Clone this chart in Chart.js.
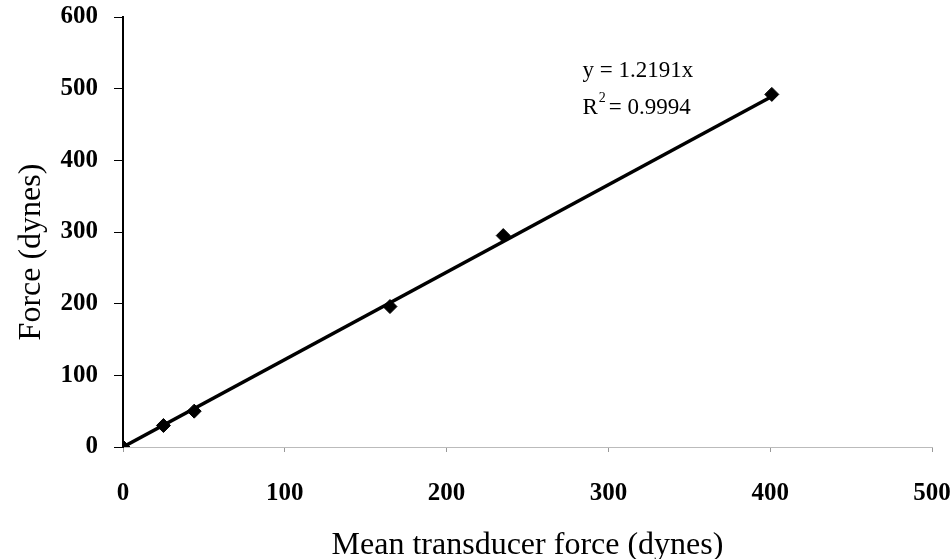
<!DOCTYPE html>
<html>
<head>
<meta charset="utf-8">
<script src="https://cdn.jsdelivr.net/npm/chart.js@4.4.0/dist/chart.umd.min.js"></script>
<style>
  html, body { margin: 0; padding: 0; background: #fff; }
  #wrap { width: 952px; height: 559px; }
</style>
</head>
<body>
<div id="wrap"><canvas id="forceChart" width="952" height="559"></canvas></div>
<script>
  const meanForce = [0, 25, 44, 165, 235, 401];
  const force = [0, 30, 50, 196, 295, 492];
  // droite de regression y = 1.2191x (extremites)
  const trendX = [0, 401];
  const trendY = [0, 489];
  const xTicks = [0, 100, 200, 300, 400, 500];
  const yTicks = [0, 100, 200, 300, 400, 500, 600];
  const eqText = "y = 1.2191x";
  const r2Text = "= 0.9994";

  const serif = "'Liberation Serif', 'DejaVu Serif', serif";

  const points = meanForce.map((x, i) => ({ x, y: force[i] }));
  const trend = trendX.map((x, i) => ({ x, y: trendY[i] }));

  const equationLabel = {
    id: "equationLabel",
    afterDatasetsDraw(chart) {
      const ctx = chart.ctx;
      const xs = chart.scales.x, ys = chart.scales.y;
      const px = xs.getPixelForValue(284);
      ctx.save();
      ctx.fillStyle = "#000";
      ctx.font = "23px " + serif;
      ctx.textBaseline = "middle";
      ctx.fillText(eqText, px, ys.getPixelForValue(525));
      const py = ys.getPixelForValue(473);
      ctx.fillText("R", px, py);
      const rw = ctx.measureText("R").width;
      ctx.font = "14px " + serif;
      ctx.fillText("2", px + rw + 1, py - 10);
      ctx.font = "23px " + serif;
      ctx.fillText(r2Text, px + rw + 11, py);
      ctx.restore();
    }
  };

  new Chart(document.getElementById("forceChart"), {
    type: "scatter",
    data: {
      datasets: [
        {
          label: "trend",
          data: trend,
          showLine: true,
          borderColor: "#000",
          borderWidth: 3.5,
          pointRadius: 0,
          fill: false
        },
        {
          label: "Force",
          data: points,
          pointStyle: "rectRot",
          pointRadius: 7,
          backgroundColor: "#000",
          borderColor: "#000"
        }
      ]
    },
    options: {
      responsive: false,
      animation: false,
      plugins: { legend: { display: false }, tooltip: { enabled: false } },
      layout: { padding: { top: 17, right: 20, left: 0, bottom: 0 } },
      scales: {
        x: {
          type: "linear",
          min: 0,
          max: 500,
          afterBuildTicks: s => { s.ticks = xTicks.map(v => ({ value: v })); },
          afterFit: s => { s.height = 112; s.paddingLeft = 0; s.paddingRight = 0; },
          grid: { drawOnChartArea: false, tickLength: 5, color: "#999" },
          border: { color: "#bbb", width: 1, dash: [3, 4] },
          ticks: {
            color: "#000",
            padding: 27,
            font: { family: serif, size: 25, weight: "bold" }
          },
          title: {
            display: true,
            text: "Mean transducer force (dynes)",
            color: "#000",
            padding: { top: 0, bottom: 0 },
            font: { family: serif, size: 32, lineHeight: 0.85 }
          }
        },
        y: {
          min: 0,
          max: 600,
          afterBuildTicks: s => { s.ticks = yTicks.map(v => ({ value: v })); },
          afterFit: s => { s.width = 123; s.paddingTop = 0; s.paddingBottom = 0; },
          grid: { drawOnChartArea: false, tickLength: 9, color: "#000" },
          border: { color: "#000", width: 2 },
          ticks: {
            color: "#000",
            padding: 16,
            font: { family: serif, size: 25, weight: "bold" }
          },
          title: {
            display: true,
            text: "Force (dynes)     ",
            color: "#000",
            padding: { top: 16, bottom: 0 },
            font: { family: serif, size: 32, lineHeight: 1 }
          }
        }
      }
    },
    plugins: [equationLabel]
  });
</script>
</body>
</html>
